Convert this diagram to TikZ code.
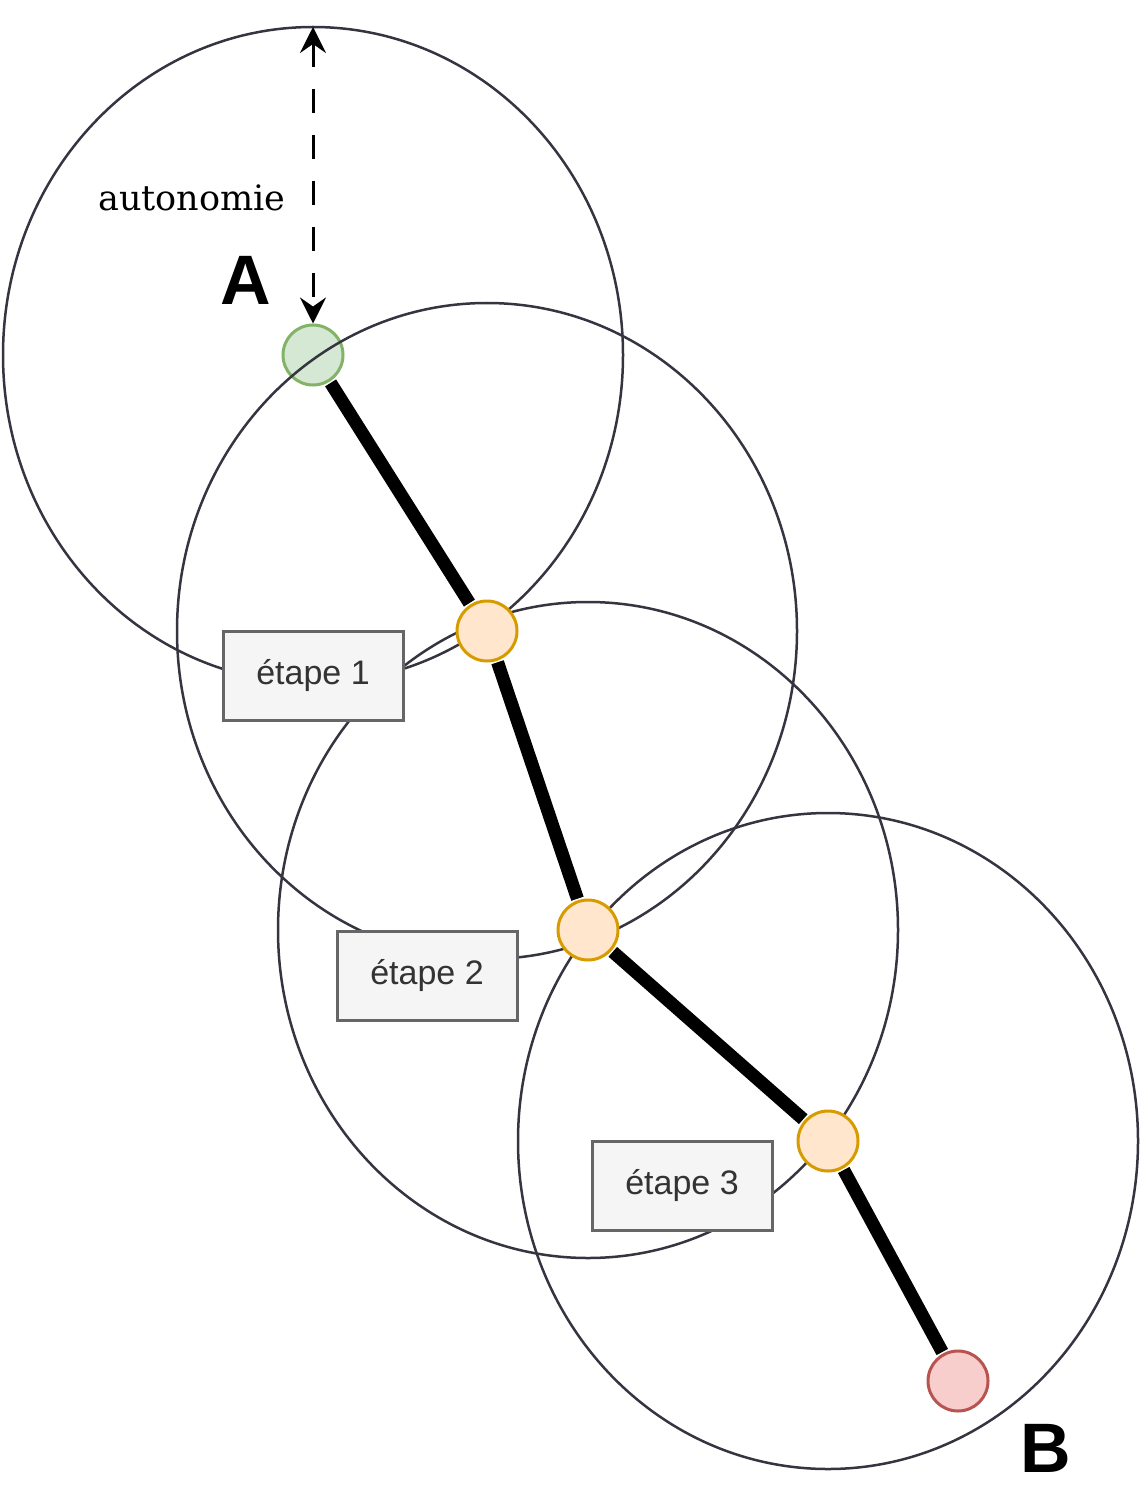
\documentclass[tikz,border=0pt]{standalone}
\usepackage{fontspec}
\setsansfont{Liberation Sans}
\newfontfamily\dejaserif{DejaVu Serif}
\usepackage{tikz}
\usetikzlibrary{arrows.meta}
\usetikzlibrary{positioning}

\definecolor{zonegray}{RGB}{54,52,64}
\definecolor{boxfill}{HTML}{F5F5F5}
\definecolor{boxline}{HTML}{666666}
\definecolor{boxtext}{HTML}{333333}

\begin{document}
\begin{tikzpicture}[x=1pt,y=-1pt,
        zone/.style={draw=zonegray,line width=2.5pt},
        halt/.style={draw,circle,minimum size=60pt,inner sep=0pt,line width=3pt},
        green/.style={fill={rgb,255:red,213;green,232;blue,212},draw={rgb,255:red,130;green,179;blue,102}},
        orange/.style={fill={rgb,255:red,255;green,230;blue,204},draw={rgb,255:red,215;green,155;blue,0}},
        red/.style={fill={rgb,255:red,248;green,206;blue,204},draw={rgb,255:red,184;green,84;blue,80}},
        etape/.style={draw=boxline,fill=boxfill,text=boxtext,line width=3pt,minimum width=180pt,
            minimum height=89pt,font=\sffamily\fontsize{34}{40}\selectfont},
        route/.style={line width=13pt,shorten <=1.5pt,shorten >=1.5pt},
        letter/.style={font=\sffamily\bfseries\fontsize{70}{84}\selectfont},
        autonomy/.style={line width=3pt,dash pattern=on 24pt off 22pt,
            {Stealth[length=26pt,width=26pt,inset=9pt]}-{Stealth[length=26pt,width=26pt,inset=9pt]}},
  ]
    \useasboundingbox (0,0) rectangle (1140,1503);

    % start
    \node[halt,green] (A) at (313,355) {};

    % reach of each stop
    \draw[zone] (313,355) ellipse [x radius=310pt, y radius=328pt];
    \draw[zone] (487,631) ellipse [x radius=310pt, y radius=328pt];
    \draw[zone] (588,930) ellipse [x radius=310pt, y radius=328pt];
    \draw[zone] (828,1141) ellipse [x radius=310pt, y radius=328pt];

    \node[etape] (e1) at (313,675.5) {étape 1};
    \node[etape] (e2) at (427,975.5) {étape 2};
    \node[etape] (e3) at (682,1185.5) {étape 3};

    % stops
    \node[halt,orange] (s1) at (487,631) {};
    \node[halt,orange] (s2) at (588,930) {};
    \node[halt,orange] (s3) at (828,1141) {};
    \node[halt,red] (B) at (958,1381) {};

    \draw[route] (A) -- (s1);
    \draw[route] (s1) -- (s2);
    \draw[route] (s2) -- (s3);
    \draw[route] (s3) -- (B);

    \coordinate (reach) at (313,27);
    \draw[autonomy] (reach) -- (A.north);
    \node[font=\dejaserif\fontsize{35}{42}\selectfont] (autonomie) at (192,198) {autonomie};

    \node[letter] (labelA) at (246,280) {A};
    \node[letter] (labelB) at (1046,1448) {B};
\end{tikzpicture}
\end{document}
